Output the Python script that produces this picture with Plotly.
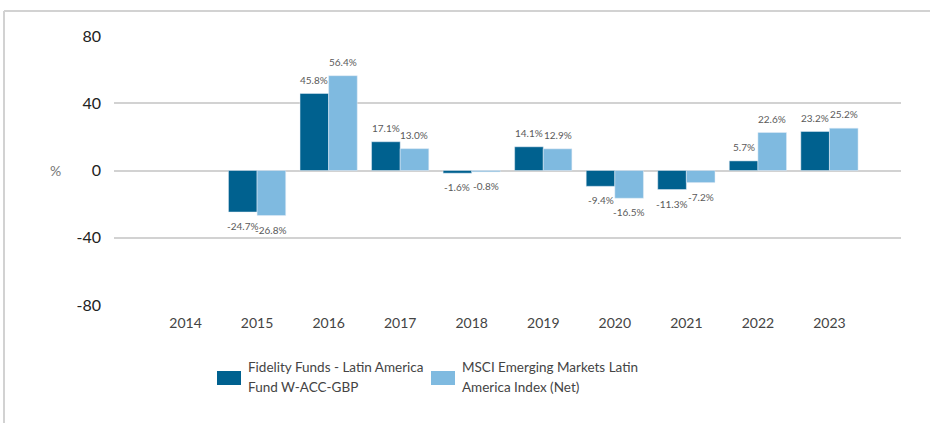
import plotly.graph_objects as go

years = ["2014", "2015", "2016", "2017", "2018", "2019", "2020", "2021", "2022", "2023"]
fund_name = ["Fidelity Funds - Latin America", "Fund W-ACC-GBP"]
index_name = ["MSCI Emerging Markets Latin", "America Index (Net)"]
fund_values = [None, -24.7, 45.8, 17.1, -1.6, 14.1, -9.4, -11.3, 5.7, 23.2]
index_values = [None, -26.8, 56.4, 13.0, -0.8, 12.9, -16.5, -7.2, 22.6, 25.2]
y_ticks = [-80, -40, 0, 40, 80]
y_tick_labels = ["-80", "-40", "0", "40", "80"]

DARK = "#00618F"
LIGHT = "#7FBAE0"
GRID = "#d2d2d2"
FONT = "Lato, 'DejaVu Sans', sans-serif"

fig = go.Figure()
fig.add_trace(go.Bar(x=years, y=fund_values, name=" ".join(fund_name), marker_color=DARK,
                     showlegend=False))
fig.add_trace(go.Bar(x=years, y=index_values, name=" ".join(index_name), marker_color=LIGHT,
                     showlegend=False))

annotations = []
for vals, off in ((fund_values, -0.2), (index_values, 0.2)):
    for i, v in enumerate(vals):
        if v is None:
            continue
        annotations.append(dict(
            x=i + off, y=v, xref="x", yref="y", text=f"{v:.1f}%",
            showarrow=False, yshift=14 if v >= 0 else -14,
            font=dict(size=10, color="#5a5a5a", family=FONT),
        ))

# Pixel layout helpers
L, R, T, B = 114, 29, 36, 118
W, H = 930 - L - R, 423 - T - B

def px(x):
    return (x - L) / W

def py(y):
    return 1 - (y - T) / H

annotations.append(dict(x=px(48), y=0, xref="paper", yref="y", text="%", showarrow=False,
                        font=dict(size=14, color="#777777", family=FONT)))

# Custom legend
shapes = []
for lines, color, x0 in ((fund_name, DARK, 217), (index_name, LIGHT, 431)):
    shapes.append(dict(type="rect", xref="paper", yref="paper",
                       x0=px(x0), x1=px(x0 + 24), y0=py(385), y1=py(371),
                       fillcolor=color, line=dict(width=0)))
    for k, line in enumerate(lines):
        annotations.append(dict(x=px(x0 + 29), y=py(367 + 20 * k), xref="paper", yref="paper",
                                text=line, showarrow=False, xanchor="left", yanchor="middle",
                                align="left",
                                font=dict(size=13.5, color="#444444", family=FONT)))

# outer frame lines (top and left)
shapes.append(dict(type="line", xref="paper", yref="paper", x0=px(4), x1=px(935),
                   y0=py(11), y1=py(11), line=dict(color=GRID, width=2)))
shapes.append(dict(type="line", xref="paper", yref="paper", x0=px(4), x1=px(4),
                   y0=py(11), y1=py(430), line=dict(color=GRID, width=2)))

fig.update_layout(
    width=930, height=423,
    margin=dict(l=L, r=R, t=T, b=B),
    paper_bgcolor="white", plot_bgcolor="white",
    barmode="group", bargap=0.2, bargroupgap=0,
    font=dict(family=FONT),
    annotations=annotations,
    shapes=shapes,
    xaxis=dict(type="category", range=[-1, 10], showgrid=False, zeroline=False,
               showline=False, ticks="", ticklabelstandoff=8,
               tickfont=dict(size=14, color="#444444", family=FONT)),
    yaxis=dict(range=[-80, 80], tickvals=y_ticks, ticktext=y_tick_labels,
               showgrid=True, gridcolor=GRID,
               gridwidth=2, zeroline=True, zerolinecolor=GRID, zerolinewidth=2,
               showline=False, ticks="", ticklabelstandoff=12,
               tickfont=dict(size=16, color="#222222", family=FONT)),
)

fig.write_html("out.html")
